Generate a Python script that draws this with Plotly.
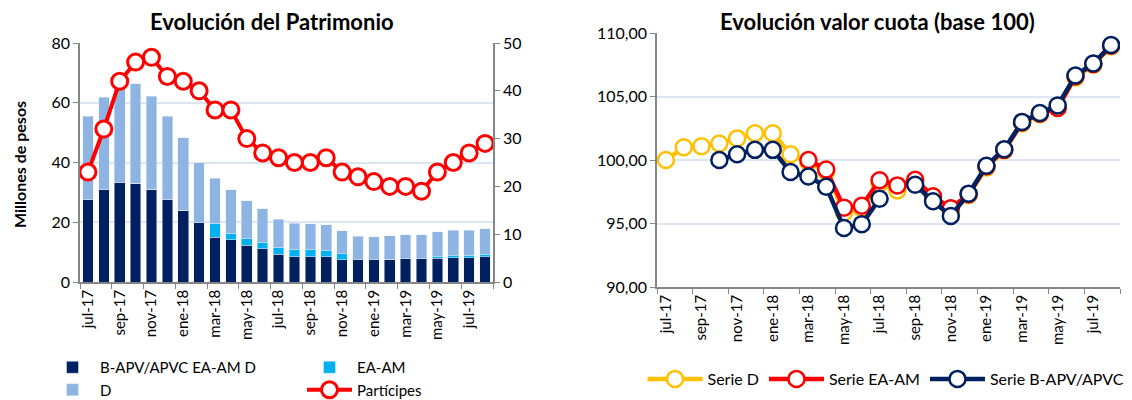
import plotly.graph_objects as go

months = ["jul-17", "ago-17", "sep-17", "oct-17", "nov-17", "dic-17", "ene-18", "feb-18",
          "mar-18", "abr-18", "may-18", "jun-18", "jul-18", "ago-18", "sep-18", "oct-18",
          "nov-18", "dic-18", "ene-19", "feb-19", "mar-19", "abr-19", "may-19", "jun-19",
          "jul-19", "ago-19"]

# Patrimonio (millones de pesos)
bapv = [27.5, 30.9, 33.3, 33.0, 31.0, 27.5, 24.0, 19.9, 14.9, 14.2, 12.3, 11.2, 9.3,
        8.5, 8.5, 8.4, 7.5, 7.5, 7.5, 7.6, 7.8, 7.8, 7.9, 8.2, 8.2, 8.4]
eaam = [0, 0, 0, 0, 0, 0, 0, 0, 4.7, 2.2, 2.2, 2.1, 2.2, 2.4, 2.4, 2.2, 2.0, 0, 0, 0,
        0, 0, 0.7, 0.6, 0.7, 0.9]
serie_d = [27.9, 31.0, 32.2, 33.3, 31.2, 27.9, 24.3, 20.1, 15.1, 14.5, 12.7, 11.3, 9.5,
           8.7, 8.6, 8.5, 7.7, 7.8, 7.6, 7.8, 8.0, 8.1, 8.2, 8.5, 8.4, 8.5]
participes = [23, 32, 42, 46, 47, 43, 42, 40, 36, 36, 30, 27, 26, 25, 25, 26, 23, 22, 21,
              20, 20, 19, 23, 25, 27, 29]

# Valor cuota (base 100)
cuota_d = [100.0, 101.0, 101.08, 101.3, 101.7, 102.1, 102.1, 100.45, 99.85, 99.1, 95.85,
           96.2, 98.15, 97.6, 98.3, 96.9, 95.95, 97.25, 99.4, 100.75, 102.9, 103.6, 104.15,
           106.5, 107.5, 108.95]
cuota_eaam = [None] * 8 + [100.0, 99.25, 96.25, 96.4, 98.4, 98.0, 98.45, 97.15, 96.2,
                           97.3, 99.5, 100.8, 102.95, 103.65, 104.1, 106.6, 107.55, 109.0]
cuota_bapv = [None] * 3 + [100.0, 100.45, 100.8, 100.8, 99.05, 98.7, 97.9, 94.65, 94.95,
                           96.95, None, 98.05, 96.75, 95.6, 97.35, 99.55, 100.85, 103.0,
                           103.7, 104.3, 106.65, 107.6, 109.05]

NAVY = "#002060"
CYAN = "#00B0F0"
LIGHT = "#8EB4E3"
RED = "#FF0000"
YELLOW = "#FFC000"
GRID = "#DCE6F2"
AXIS = "#868686"
FONT = "Lato"

# the page body has an 8px margin; work in window pixels
OFF = 8
W, H = 1132 - OFF, 400 - OFF
def px(x):
    return (x - OFF) / W
def py(y):
    return 1 - (y - OFF) / H

fig = go.Figure()

fig.add_trace(go.Bar(x=months, y=bapv, name="B-APV/APVC EA-AM D", marker_color=NAVY,
                     xaxis="x", yaxis="y", legend="legend"))
fig.add_trace(go.Bar(x=months, y=eaam, name="EA-AM", marker_color=CYAN,
                     xaxis="x", yaxis="y", legend="legend3"))
fig.add_trace(go.Bar(x=months, y=serie_d, name="D", marker_color=LIGHT,
                     xaxis="x", yaxis="y", legend="legend"))
fig.add_trace(go.Scatter(x=months, y=participes, name="Partícipes", mode="lines+markers",
                         line=dict(color=RED, width=4),
                         marker=dict(size=16, color="white", line=dict(color=RED, width=3)),
                         xaxis="x", yaxis="y3", legend="legend3"))

for name, vals, col in [("Serie D", cuota_d, YELLOW), ("Serie EA-AM", cuota_eaam, RED),
                        ("Serie B-APV/APVC", cuota_bapv, NAVY)]:
    fig.add_trace(go.Scatter(x=months, y=vals, name=name, mode="lines+markers",
                             connectgaps=False,
                             line=dict(color=col, width=4.5),
                             marker=dict(size=16, color="white", line=dict(color=col, width=2.5)),
                             xaxis="x2", yaxis="y2", legend="legend2"))

xcommon = dict(type="category", tickangle=-90, dtick=2, tick0=0, tickson="boundaries",
               range=[-0.5, 25.5],
               showline=True, linecolor=AXIS, linewidth=1.5, ticks="outside",
               tickcolor=AXIS, ticklen=5, showgrid=False, automargin=False,
               tickfont=dict(size=15, color="#000", family=FONT))
ycommon = dict(showline=True, linecolor=AXIS, linewidth=1.5, ticks="outside",
               tickcolor=AXIS, ticklen=5, gridcolor=GRID, gridwidth=1.5, automargin=False,
               tickfont=dict(size=16, color="#000", family=FONT), zeroline=False)

fig.update_layout(
    width=W, height=H,
    margin=dict(l=0, r=0, t=0, b=0, autoexpand=False),
    paper_bgcolor="white", plot_bgcolor="white",
    separators=",.",
    barmode="stack", bargap=0.33,
    font=dict(family=FONT, color="#000"),
    xaxis=dict(domain=[px(80), px(493)], anchor="y", **xcommon),
    yaxis=dict(domain=[py(282), py(43)], range=[0, 80], dtick=20, anchor="x", **ycommon),
    yaxis3=dict(overlaying="y", side="right", anchor="x", range=[0, 50], dtick=10,
                showgrid=False, showline=True, linecolor=AXIS, linewidth=1.5,
                ticks="outside", tickcolor=AXIS, ticklen=5, zeroline=False, automargin=False,
                tickfont=dict(size=16, color="#000", family=FONT)),
    xaxis2=dict(domain=[px(657), px(1120)], anchor="y2", **xcommon),
    yaxis2=dict(domain=[py(287), py(33)], range=[90, 110], dtick=5, anchor="x2",
                tickformat=".2f", **ycommon),
    legend=dict(orientation="v", x=px(45), y=py(406), xanchor="left", yanchor="bottom",
                font=dict(size=15, family=FONT), itemwidth=45, bgcolor="rgba(0,0,0,0)",
                traceorder="normal"),
    legend3=dict(orientation="v", x=px(302), y=py(406), xanchor="left", yanchor="bottom",
                 font=dict(size=15, family=FONT), itemwidth=45, bgcolor="rgba(0,0,0,0)",
                 traceorder="normal"),
    legend2=dict(orientation="h", x=px(886), y=py(396), xanchor="center", yanchor="bottom",
                 font=dict(size=16, family=FONT), itemwidth=55, bgcolor="rgba(0,0,0,0)"),
    annotations=[
        dict(text="<b>Evolución del Patrimonio</b>", x=px(272), y=py(22), xref="paper",
             yref="paper", xanchor="center", yanchor="middle", showarrow=False,
             borderpad=0, font=dict(size=22, family=FONT)),
        dict(text="<b>Evolución valor cuota (base 100)</b>", x=px(877), y=py(22),
             xref="paper", yref="paper", xanchor="center", yanchor="middle",
             showarrow=False, borderpad=0, font=dict(size=22, family=FONT)),
        dict(text="<b>Millones de pesos</b>", x=px(19), y=py(165), xref="paper",
             yref="paper", xanchor="center", yanchor="middle", showarrow=False,
             textangle=-90, font=dict(size=16, family=FONT)),
    ],
)

fig.write_html("out.html")
